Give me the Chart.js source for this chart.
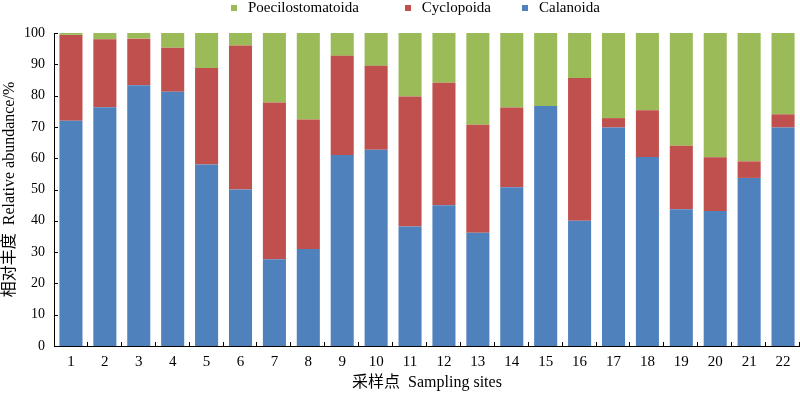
<!DOCTYPE html>
<html>
<head>
<meta charset="utf-8">
<script src="https://cdn.jsdelivr.net/npm/chart.js@4.4.1/dist/chart.umd.min.js"></script>
<style>
    body { margin: 0; background: #fff; }
    #wrap { position: relative; width: 800px; height: 393px; }
    #legend { position: absolute; top: 0; left: 231px; display: flex; align-items: center;
        font-family: 'Liberation Serif', 'Times New Roman', serif; font-size: 15px; color: #000; height: 15px; }
    #legend .item { display: flex; align-items: center; }
    #legend .box { width: 6px; height: 6px; margin-right: 11px; }
</style>
</head>
<body>
<div id="wrap">
    <canvas id="abundanceChart" width="800" height="393"></canvas>
    <div id="legend"></div>
</div>
<script>
// sampling sites 1..22
const sites = ['1', '2', '3', '4', '5', '6', '7', '8', '9', '10', '11',
    '12', '13', '14', '15', '16', '17', '18', '19', '20', '21', '22'];

// relative abundance (%) of each group
const calanoida = [72.0, 76.3, 83.3, 81.2, 58.0, 50.0, 27.7, 31.0, 61.0, 62.7, 38.2,
    45.0, 36.2, 50.7, 76.7, 40.0, 69.8, 60.4, 43.7, 43.1, 53.7, 69.8];
const cyclopoida = [27.4, 21.7, 14.9, 14.1, 30.8, 46.0, 50.1, 41.4, 31.7, 26.8, 41.5,
    39.1, 34.5, 25.5, 0.0, 45.6, 3.0, 14.9, 20.3, 17.2, 5.3, 4.2];
const poecilostomatoida = [0.6, 2.0, 1.8, 4.7, 11.2, 4.0, 22.2, 27.6, 7.3, 10.5, 20.3,
    15.9, 29.3, 23.8, 23.3, 14.4, 27.2, 24.7, 36.0, 39.7, 41.0, 26.0];

const yTicks = [0, 10, 20, 30, 40, 50, 60, 70, 80, 90, 100];

const serif = "'Liberation Serif', 'Times New Roman', 'Noto Sans CJK SC', serif";
const legendGaps = [46, 31, 0];

// small inward tick marks like the original figure
const inwardTicks = {
    id: 'inwardTicks',
    afterDatasetsDraw(chart) {
        const ctx = chart.ctx;
        const x = chart.scales.x;
        const y = chart.scales.y;
        ctx.save();
        ctx.strokeStyle = '#000';
        ctx.lineWidth = 1;
        ctx.beginPath();
        y.ticks.forEach((t, i) => {
            const py = Math.round(y.getPixelForTick(i)) + 0.5;
            ctx.moveTo(x.left, py);
            ctx.lineTo(x.left + 4, py);
        });
        const step = x.width / sites.length;
        for (let i = 1; i <= sites.length; i++) {
            const px = Math.round(x.left + i * step) - 0.5;
            ctx.moveTo(px, y.bottom);
            ctx.lineTo(px, y.bottom - 4);
        }
        ctx.stroke();
        ctx.restore();
    }
};

const chart = new Chart(document.getElementById('abundanceChart').getContext('2d'), {
    type: 'bar',
    data: {
        labels: sites,
        datasets: [
            { label: 'Calanoida', data: calanoida, backgroundColor: '#4F81BD' },
            { label: 'Cyclopoida', data: cyclopoida, backgroundColor: '#C0504D' },
            { label: 'Poecilostomatoida', data: poecilostomatoida, backgroundColor: '#9BBB59' }
        ]
    },
    options: {
        responsive: false,
        animation: false,
        devicePixelRatio: 1,
        layout: { padding: { top: 33, left: 0, right: 0, bottom: 0 } },
        datasets: { bar: { barPercentage: 0.68, categoryPercentage: 1.0 } },
        plugins: {
            legend: { display: false },
            tooltip: { enabled: false }
        },
        scales: {
            x: {
                stacked: true,
                grid: { display: false, drawTicks: false },
                border: { display: true, color: '#000', width: 1 },
                ticks: { color: '#000', padding: 7, font: { family: serif, size: 15 } },
                title: {
                    display: true,
                    text: '采样点  Sampling sites',
                    color: '#000',
                    padding: { top: 0, bottom: 1 },
                    font: { family: serif, size: 16 }
                },
                afterFit(scale) { scale.height = 47; }
            },
            y: {
                stacked: true,
                min: 0,
                max: 100,
                afterBuildTicks(scale) { scale.ticks = yTicks.map(v => ({ value: v })); },
                grid: { display: false, drawTicks: false },
                border: { display: true, color: '#000', width: 1 },
                ticks: { color: '#000', padding: 9, font: { family: serif, size: 14 } },
                title: {
                    display: true,
                    text: '相对丰度  Relative abundance/%',
                    color: '#000',
                    padding: { top: 0, bottom: 0 },
                    font: { family: serif, size: 16 }
                },
                afterFit(scale) { scale.width = 54; }
            }
        }
    },
    plugins: [inwardTicks]
});

// legend in reverse order, as in the figure
const legend = document.getElementById('legend');
chart.data.datasets.slice().reverse().forEach((ds, i) => {
    const item = document.createElement('div');
    item.className = 'item';
    item.style.marginRight = legendGaps[i] + 'px';
    const box = document.createElement('span');
    box.className = 'box';
    box.style.background = ds.backgroundColor;
    const text = document.createElement('span');
    text.textContent = ds.label;
    item.appendChild(box);
    item.appendChild(text);
    legend.appendChild(item);
});
</script>
</body>
</html>
